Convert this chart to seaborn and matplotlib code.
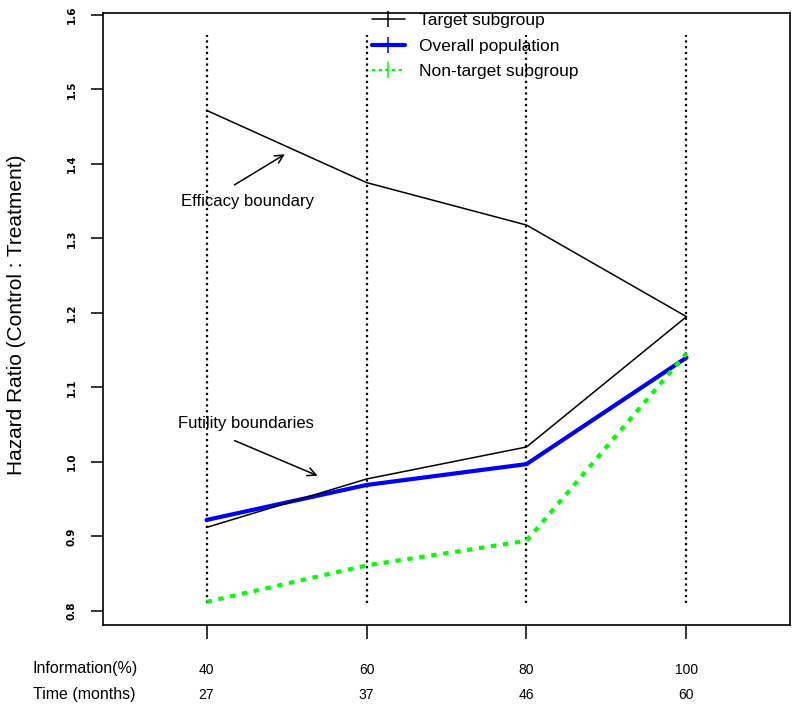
import pandas as pd
import seaborn as sns
import matplotlib
matplotlib.use('Agg')
import matplotlib.pyplot as plt
from matplotlib.lines import Line2D

# Interim analyses
info_pct = [40, 60, 80, 100]
months = [27, 37, 46, 60]

# Hazard ratio boundaries
target_efficacy = [1.472, 1.375, 1.318, 1.195]
target_futility = [0.912, 0.977, 1.020, 1.195]
overall_futility = [0.922, 0.969, 0.997, 1.140]
nontarget_futility = [0.812, 0.861, 0.894, 1.146]

y_ticks = [0.8, 0.9, 1.0, 1.1, 1.2, 1.3, 1.4, 1.5, 1.6]
legend_labels = ["Target subgroup", "Overall population", "Non-target subgroup"]


def main():
    sns.set_style("white")
    plt.rcParams['font.family'] = ['Liberation Sans', 'DejaVu Sans']
    plt.rcParams.update({
        'text.color': 'black',
        'axes.labelcolor': 'black',
        'xtick.color': 'black',
        'ytick.color': 'black',
    })

    df = pd.DataFrame({
        'info': info_pct * 4,
        'hr': target_efficacy + target_futility + overall_futility + nontarget_futility,
        'line': ['t_eff'] * 4 + ['t_fut'] * 4 + ['overall'] * 4 + ['nontarget'] * 4,
    })

    fig = plt.figure(figsize=(8, 7.13), dpi=100)
    ax = fig.add_axes([103 / 800, 88 / 713, 687 / 800, 612 / 713])

    # dotted analysis markers
    ax.vlines(info_pct, 0.811, 1.573, colors='black', linestyles=(0, (1, 1.6)), lw=1.6, zorder=1)

    sns.lineplot(data=df[df.line == 't_eff'], x='info', y='hr', color='black', lw=1.1, ax=ax, zorder=3)
    sns.lineplot(data=df[df.line == 't_fut'], x='info', y='hr', color='black', lw=1.1, ax=ax, zorder=3)
    sns.lineplot(data=df[df.line == 'overall'], x='info', y='hr', color='#0000FF', lw=3, ax=ax, zorder=2)
    sns.lineplot(data=df[df.line == 'nontarget'], x='info', y='hr', color='#00FF00', lw=3,
                 dashes=False, ax=ax, zorder=2).lines[-1].set_dashes((1.3, 1.6))

    ax.set_xlim(27.06, 112.94)
    ax.set_ylim(0.781, 1.6027)
    ax.set_xlabel('')
    ax.set_ylabel('')

    for side in ['left', 'right', 'top', 'bottom']:
        ax.spines[side].set_color('black')
        ax.spines[side].set_linewidth(1.2)

    ax.set_yticks(y_ticks)
    ax.set_yticklabels([f"{v:.1f}" for v in y_ticks], rotation=90, va='center',
                       fontsize=7.5, fontweight='bold', family='DejaVu Sans')
    ax.tick_params(axis='y', direction='out', length=9, width=1.1, pad=10, left=True)
    ax.set_xticks(info_pct)
    ax.set_xticklabels([])
    ax.tick_params(axis='x', direction='out', length=10, width=1.1, bottom=True)

    # bottom table of information / time
    xt = ax.get_xaxis_transform()
    for x, m in zip(info_pct, months):
        ax.text(x, -0.074, str(x), transform=xt, ha='center', va='center', fontsize=10)
        ax.text(x, -0.114, str(m), transform=xt, ha='center', va='center', fontsize=10)
    fig.text(33 / 800, 1 - 669 / 713, "Information(%)", ha='left', va='center', fontsize=11.5)
    fig.text(33 / 800, 1 - 694 / 713, "Time (months)", ha='left', va='center', fontsize=11.5)

    fig.text(17 / 800, 1 - 315 / 713, "Hazard Ratio (Control : Treatment)", rotation=90,
             ha='center', va='center', fontsize=15)

    # annotations
    ax.text(45.1, 1.350, "Efficacy boundary", ha='center', va='center', fontsize=12)
    ax.annotate('', xy=(50.1, 1.415), xytext=(43.2, 1.370),
                arrowprops=dict(arrowstyle='->,head_length=0.6,head_width=0.3', color='black', lw=1.1))
    ax.text(44.9, 1.052, "Futility boundaries", ha='center', va='center', fontsize=12)
    ax.annotate('', xy=(54.2, 0.980), xytext=(43.2, 1.030),
                arrowprops=dict(arrowstyle='->,head_length=0.6,head_width=0.3', color='black', lw=1.1))

    handles = [
        Line2D([], [], color='black', lw=1.1, marker='|', markersize=12, markeredgewidth=1.1),
        Line2D([], [], color='#0000FF', lw=3, marker='|', markersize=12, markeredgewidth=1.1),
        Line2D([], [], color='#00FF00', lw=1.6, ls=(0, (1.5, 1.5)), marker='|', markersize=12,
               markeredgewidth=1.1),
    ]
    ax.legend(handles, legend_labels, loc='upper left', bbox_to_anchor=(372 / 800, 1 - 13 / 713),
              bbox_transform=fig.transFigure, frameon=False, fontsize=12.5, handlelength=1.9,
              handletextpad=0.8, labelspacing=0.6, borderpad=0, borderaxespad=0)

    fig.savefig('out.png', dpi=100)


if __name__ == '__main__':
    main()
